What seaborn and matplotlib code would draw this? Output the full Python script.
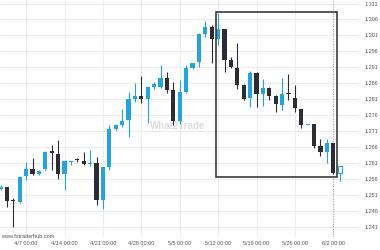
import numpy as np
import pandas as pd
import matplotlib
matplotlib.use("Agg")
import matplotlib.pyplot as plt
import seaborn as sns
from matplotlib.patches import Rectangle

# ---- data ----
opens = [1.25281, 1.25344, 1.24914, 1.24883, 1.25698, 1.25909, 1.25761, 1.25899, 1.26442, 1.26379,
         1.25742, 1.26128, 1.26191, 1.26169, 1.26065, 1.26087, 1.24936, 1.25962, 1.27163, 1.27289,
         1.27446, 1.28114, 1.28198, 1.28095, 1.28490, 1.28491, 1.28754, 1.28387, 1.27424, 1.28333,
         1.29077, 1.29256, 1.30143, 1.30372, 1.29996, 1.30291, 1.29328, 1.29086, 1.28544, 1.28136,
         1.28920, 1.28252, 1.28440, 1.28189, 1.27932, 1.28277, 1.28130, 1.27781, 1.27295, 1.27311,
         1.26630, 1.26442, 1.26715, 1.25783]
highs = [1.25407, 1.25354, 1.24999, 1.25698, 1.26138, 1.26244, 1.25877, 1.26473, 1.26661, 1.26818,
         1.26191, 1.26175, 1.26263, 1.26451, 1.26505, 1.26276, 1.25987, 1.27289, 1.27320, 1.27781,
         1.28333, 1.28597, 1.28826, 1.28512, 1.28647, 1.29171, 1.28961, 1.28638, 1.28700, 1.29171,
         1.29234, 1.30165, 1.30560, 1.30426, 1.30811, 1.30316, 1.29412, 1.29870, 1.28575, 1.28992,
         1.28936, 1.28732, 1.28471, 1.28230, 1.28754, 1.28889, 1.28544, 1.27806, 1.27336, 1.27320,
         1.26840, 1.26840, 1.26724, 1.26003]
lows = [1.25250, 1.24726, 1.24074, 1.24842, 1.25564, 1.25720, 1.25736, 1.25877, 1.25877, 1.25586,
        1.25250, 1.26034, 1.26119, 1.26034, 1.26003, 1.24779, 1.24654, 1.25877, 1.27132, 1.27236,
        1.26903, 1.28001, 1.27969, 1.27342, 1.28409, 1.28444, 1.28283, 1.27289, 1.27320, 1.28283,
        1.29061, 1.29118, 1.30059, 1.29243, 1.29798, 1.28961, 1.29067, 1.28409, 1.28073, 1.27863,
        1.27863, 1.27885, 1.28073, 1.27706, 1.27759, 1.28073, 1.27706, 1.27185, 1.27289, 1.26558,
        1.26316, 1.26087, 1.25752, 1.25542]
closes = [1.25360, 1.24914, 1.24898, 1.25667, 1.25899, 1.25752, 1.25855, 1.26451, 1.26426, 1.25742,
          1.26169, 1.26169, 1.26178, 1.26065, 1.26097, 1.24936, 1.25971, 1.27154, 1.27279, 1.27424,
          1.28095, 1.28198, 1.28104, 1.28490, 1.28575, 1.28754, 1.28387, 1.27399, 1.28333, 1.29067,
          1.29224, 1.30134, 1.30353, 1.29996, 1.30291, 1.29328, 1.29118, 1.28544, 1.28104, 1.28929,
          1.28252, 1.28440, 1.28198, 1.27948, 1.28277, 1.28261, 1.27813, 1.27289, 1.27311, 1.26630,
          1.26442, 1.26715, 1.25774, 1.26003]

# trading days (Sunday..Friday sessions)
dates = pd.bdate_range("2025-04-02", periods=len(opens), freq="C",
                       weekmask="Sun Mon Tue Wed Thu Fri")
tick_dates = ["2025-04-07", "2025-04-14", "2025-04-21", "2025-04-28", "2025-05-05",
              "2025-05-12", "2025-05-19", "2025-05-26", "2025-06-02"]
tick_labels = ["4/7 00:00", "4/14 00:00", "4/21 00:00", "4/28 00:00", "5/5 00:00",
               "5/12 00:00", "5/19 00:00", "5/26 00:00", "6/2 00:00"]
y_ticks = [1.241, 1.246, 1.251, 1.256, 1.261, 1.266, 1.271, 1.276, 1.281, 1.286,
           1.291, 1.296, 1.301, 1.306, 1.311]

# pattern box (start/end in candle index, price range)
box_x = [33.6, 52.6]
box_y = [1.25667, 1.30824]
current_idx = 52

df = pd.DataFrame({"date": dates, "open": opens, "high": highs, "low": lows, "close": closes})
df["idx"] = np.arange(len(df))

# ---- style ----
sns.set_theme(style="white")
plt.rcParams["font.family"] = ["Liberation Sans", "DejaVu Sans"]

BLUE = "#1ea5e2"
DARK = "#2c2c34"
GRID = "#ececec"
TXT = "#555555"

fig = plt.figure(figsize=(3.8, 2.5), dpi=100)
ax = fig.add_axes([0.0, 13 / 250, 358 / 380, 237 / 250])

ax.set_xlim(-0.08, 55.86)
ax.set_ylim(1.23776, 1.31210)

# grid
tick_pos = [int(df.index[df["date"] == pd.Timestamp(d)][0]) for d in tick_dates]
for p in tick_pos[:-1]:
    ax.axvline(p, color=GRID, lw=0.7, zorder=0)
for v in y_ticks:
    ax.axhline(v, color=GRID, lw=0.7, zorder=0)

# current time marker
ax.axvline(current_idx, color="#a8b0b4", lw=0.9, ls=(0, (1, 1)), zorder=1)

# candles
up = df["close"] >= df["open"]
colors = np.where(up, BLUE, DARK)
ax.vlines(df["idx"], df["low"], df["high"], colors=colors, lw=0.8, zorder=2)
body_bottom = np.minimum(df["open"], df["close"])
body_h = np.maximum(np.abs(df["close"] - df["open"]), 0.00032)
last = len(df) - 1
ax.bar(df["idx"][:last], body_h[:last], bottom=body_bottom[:last], width=0.66,
       color=colors[:last], linewidth=0, zorder=3)
ax.bar(df["idx"][last:], body_h[last:], bottom=body_bottom[last:], width=0.66,
       facecolor="white", edgecolor=BLUE, linewidth=0.8, zorder=3)

# pattern rectangle
ax.add_patch(Rectangle((box_x[0], box_y[0]), box_x[1] - box_x[0], box_y[1] - box_y[0],
                       fill=False, edgecolor="#3a3a3a", lw=1.2, zorder=4))

# watermark
ax.text(0.497, 0.468, "What2Trade", transform=ax.transAxes, ha="center", va="center",
        fontsize=7, fontweight="bold", color="#d9d9d9", alpha=0.9, zorder=1)

# axes
ax.yaxis.tick_right()
ax.set_yticks(y_ticks)
ax.set_yticklabels([f"{v:.3f}" for v in y_ticks])
ax.set_xticks(tick_pos)
ax.set_xticklabels(tick_labels)
ax.tick_params(axis="y", length=0, pad=5, labelsize=4, labelcolor=TXT)
ax.tick_params(axis="x", length=0, pad=3, labelsize=4, labelcolor=TXT)
for s in ax.spines.values():
    s.set_visible(False)
ax.grid(False)

fig.text(1 / 380, 1 - 236 / 250, "www.fxtraderhub.com", ha="left", va="center",
         fontsize=4, color=TXT)

fig.savefig("out.png", dpi=100)
